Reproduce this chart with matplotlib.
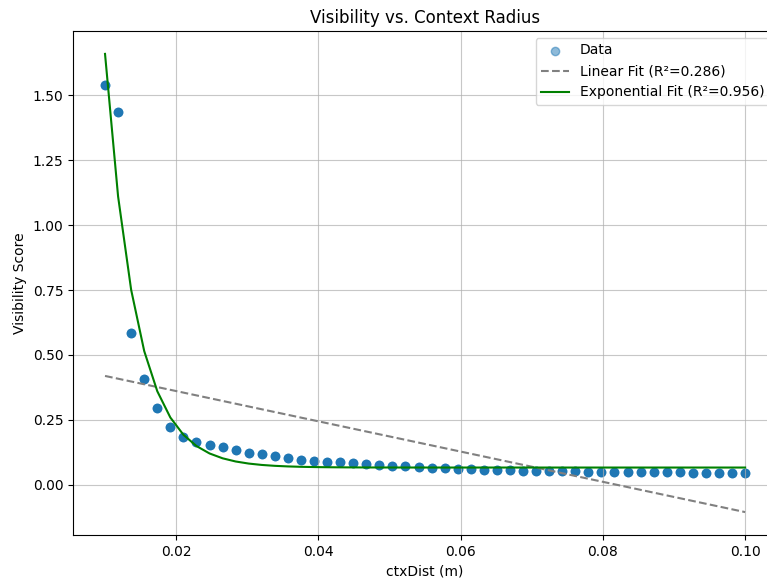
import numpy as np
import matplotlib
matplotlib.use('Agg')
import matplotlib.pyplot as plt

# ctxDist samples (m)
ctx_dist = np.linspace(0.01, 0.10, 50)

# visibility scores
visibility = [1.539, 1.438, 0.585, 0.408, 0.297, 0.224, 0.185, 0.166, 0.152, 0.144,
              0.135, 0.123, 0.117, 0.109, 0.104, 0.096, 0.093, 0.089, 0.086, 0.084,
              0.078, 0.074, 0.072, 0.071, 0.067, 0.066, 0.064, 0.062, 0.059, 0.058,
              0.055, 0.055, 0.054, 0.054, 0.053, 0.051, 0.051, 0.050, 0.050, 0.050,
              0.049, 0.049, 0.047, 0.047, 0.047, 0.046, 0.046, 0.046, 0.045, 0.044]

# exponential fit y = a*exp(-b*x) + c
exp_a = 15.9
exp_b = 230.0
exp_c = 0.066
r2_linear = 0.286
r2_exp = 0.956

y = np.array(visibility)
slope, intercept = np.polyfit(ctx_dist, y, 1)
lin_fit = slope * ctx_dist + intercept
exp_fit = exp_a * np.exp(-exp_b * ctx_dist) + exp_c

fig = plt.figure(figsize=(7.67, 5.79), dpi=100)
ax = fig.add_axes([0.0952, 0.076, 0.918, 0.8705])

ax.scatter(ctx_dist, y, color='#1f77b4', alpha=0.5, label='Data')
ax.scatter(ctx_dist, y, color='#1f77b4')
ax.plot(ctx_dist, lin_fit, '--', color='gray', label='Linear Fit (R²=%.3f)' % r2_linear)
ax.plot(ctx_dist, exp_fit, color='green', label='Exponential Fit (R²=%.3f)' % r2_exp)

ax.set_title('Visibility vs. Context Radius')
ax.set_xlabel('ctxDist (m)')
ax.set_ylabel('Visibility Score')
ax.grid(True, alpha=0.7)
ax.legend(loc='upper right')

fig.savefig('out.png', dpi=100)
